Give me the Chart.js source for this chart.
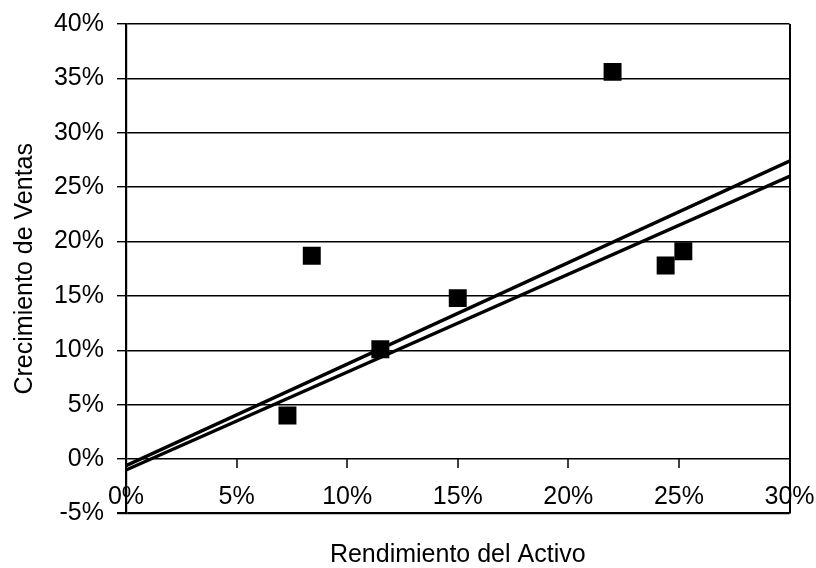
<!DOCTYPE html>
<html>
<head>
<meta charset="utf-8">
<script src="https://cdn.jsdelivr.net/npm/chart.js@4/dist/chart.umd.min.js"></script>
<style>
  html, body { margin: 0; padding: 0; background: #fff; }
  #wrap { width: 816px; height: 568px; position: relative; }
</style>
</head>
<body>
<div id="wrap"><canvas id="c"></canvas></div>
<script>
// ---- data (percent units) ----
const roaValues    = [7.3, 8.4, 11.5, 15.0, 22.0, 24.4, 25.2];   // Rendimiento del Activo
const growthValues = [4.0, 18.7, 10.1, 14.8, 35.6, 17.8, 19.1];  // Crecimiento de Ventas
const lineX        = [0, 30];
const lineAY       = [-0.6, 27.4];
const lineBY       = [-1.0, 26.0];
const xTicks       = [0, 5, 10, 15, 20, 25, 30];
const yTicks       = [-5, 0, 5, 10, 15, 20, 25, 30, 35, 40];
const xTitle = 'Rendimiento del Activo';
const yTitle = 'Crecimiento de Ventas';

const FONT = "'Liberation Sans', Arial, sans-serif";

const pts = roaValues.map((x, i) => ({ x: x, y: growthValues[i] }));
const lineA = lineX.map((x, i) => ({ x: x, y: lineAY[i] }));
const lineB = lineX.map((x, i) => ({ x: x, y: lineBY[i] }));

new Chart(document.getElementById('c'), {
  type: 'scatter',
  data: {
    datasets: [
      { data: pts, pointStyle: 'rect', pointRadius: 12.7, pointHoverRadius: 12.7,
        backgroundColor: '#000', borderWidth: 0, showLine: false },
      { data: lineA, showLine: true, borderColor: '#000', borderWidth: 3.4, pointRadius: 0, fill: false },
      { data: lineB, showLine: true, borderColor: '#000', borderWidth: 3.4, pointRadius: 0, fill: false }
    ]
  },
  options: {
    responsive: true,
    maintainAspectRatio: false,
    animation: false,
    layout: { padding: { top: 24, right: 26.5, left: 0, bottom: 0 } },
    plugins: {
      legend: { display: false },
      tooltip: { enabled: false },
      title: {
        display: true, position: 'bottom', fullSize: false, text: xTitle, color: '#000',
        font: { family: FONT, size: 25, weight: 'normal', lineHeight: 1 },
        padding: { top: 29.5, bottom: 0 }
      }
    },
    scales: {
      x: {
        type: 'linear',
        position: { y: 0 },
        min: 0, max: 30,
        afterBuildTicks: (s) => { s.ticks = xTicks.map(v => ({ value: v })); },
        afterFit: (s) => { s.paddingLeft = 0; s.paddingRight = 0; },
        ticks: {
          color: '#000', padding: 14, maxRotation: 0, autoSkip: false,
          font: { family: FONT, size: 25 },
          callback: (v) => v + '%'
        },
        grid: {
          drawOnChartArea: true,
          color: (ctx) => (ctx.tick && (ctx.tick.value === 0 || ctx.tick.value === 30)) ? '#000' : 'rgba(0,0,0,0)',
          lineWidth: 2,
          tickColor: '#000', tickWidth: 1.5, tickLength: 9
        },
        border: { display: false }
      },
      y: {
        type: 'linear',
        position: 'left',
        min: -5, max: 40,
        afterBuildTicks: (s) => { s.ticks = yTicks.map(v => ({ value: v })); },
        afterFit: (s) => { s.width = 126; s.paddingTop = 0; s.paddingBottom = 0; },
        ticks: {
          color: '#000', padding: 13,
          font: { family: FONT, size: 25 },
          callback: (v) => v + '%'
        },
        grid: {
          color: '#000',
          lineWidth: (ctx) => (ctx.tick && ctx.tick.value === -5) ? 2.2 : 1.4,
          tickLength: 9
        },
        border: { display: true, color: '#000', width: 2.2 },
        title: {
          display: true, text: yTitle, color: '#000',
          font: { family: FONT, size: 25, lineHeight: 1.2 },
          padding: { top: 10, bottom: 0 }
        }
      }
    }
  }
});
</script>
</body>
</html>
